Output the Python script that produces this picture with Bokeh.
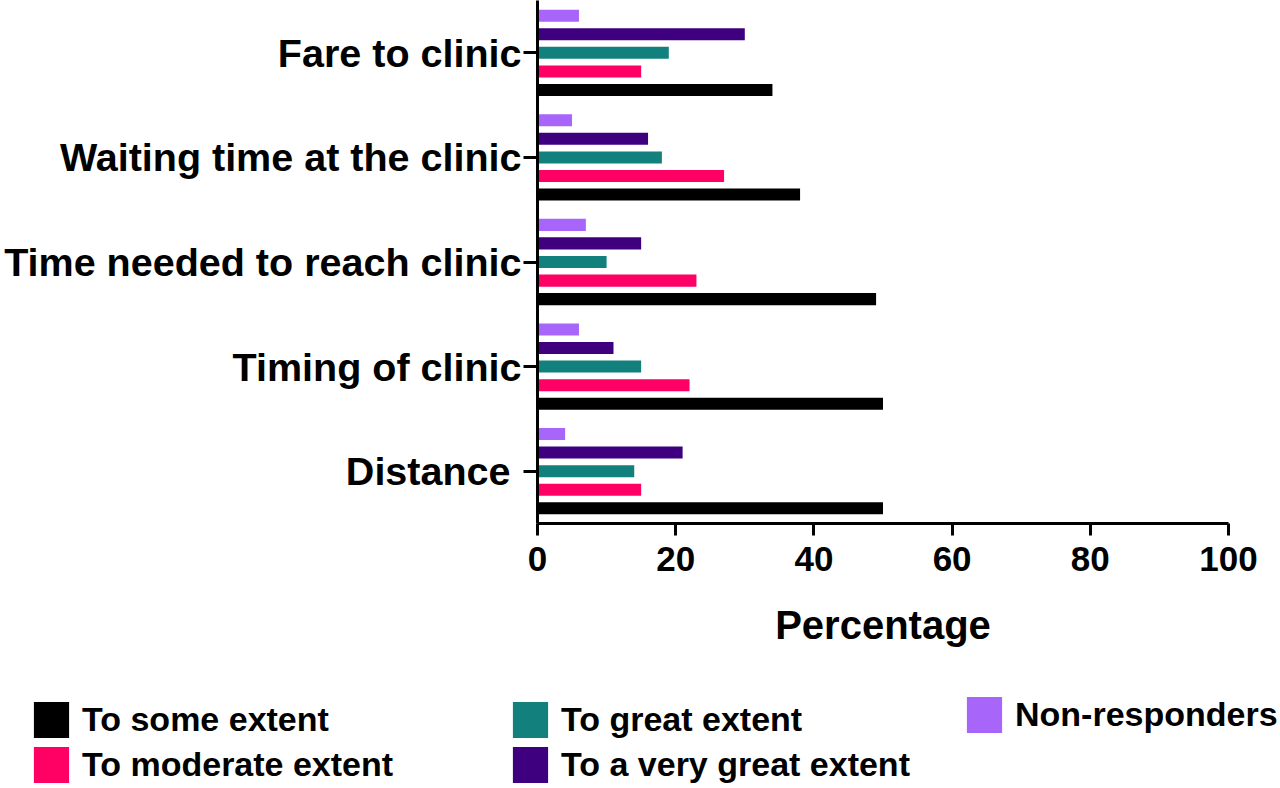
from bokeh.plotting import figure
from bokeh.layouts import column
from bokeh.models import ColumnDataSource, FactorRange, Range1d, FixedTicker, Legend, LegendItem
from bokeh.transform import dodge
from bokeh.embed import file_html
from bokeh.resources import INLINE

# barriers, listed bottom to top as Bokeh draws factors
categories = ["Distance\u00a0", "Timing of clinic", "Time needed to reach clinic",
              "Waiting time at the clinic", "Fare to clinic"]
some_extent = [50, 50, 49, 38, 34]
moderate_extent = [15, 22, 23, 27, 15]
great_extent = [14, 15, 10, 18, 19]
very_great_extent = [21, 11, 15, 16, 30]
non_responders = [4, 6, 7, 5, 6]

x_ticks = [0, 20, 40, 60, 80, 100]

FONT = "Liberation Sans"

src = ColumnDataSource(data=dict(
    cat=categories,
    some=some_extent,
    moderate=moderate_extent,
    great=great_extent,
    very_great=very_great_extent,
    nonresp=non_responders,
))

series = [
    ("some", "To some extent", "#000000", -0.355),
    ("moderate", "To moderate extent", "#FF0064", -0.178),
    ("great", "To great extent", "#12807C", 0.0),
    ("very_great", "To a very great extent", "#3F0080", 0.178),
    ("nonresp", "Non-responders", "#A766F9", 0.355),
]

p = figure(width=1280, height=680,
           y_range=FactorRange(factors=categories),
           x_range=Range1d(0, 100),
           output_backend="svg", toolbar_location=None,
           min_border_left=537, min_border_right=52,
           min_border_top=0, min_border_bottom=157)
p.frame_align = False

for key, label, col, off in series:
    p.hbar(y=dodge("cat", off, range=p.y_range), left=0, right=key,
           height=0.115, source=src, fill_color=col, line_color=None)

p.xgrid.visible = False
p.ygrid.visible = False
p.outline_line_color = None

p.xaxis.ticker = FixedTicker(ticks=x_ticks)
p.xaxis.axis_label = "Percentage"
p.xaxis.axis_label_text_font = FONT
p.xaxis.axis_label_text_font_style = "bold"
p.xaxis.axis_label_text_font_size = "40px"
p.xaxis.axis_label_text_color = "black"
p.xaxis.axis_label_standoff = 29
p.xaxis.major_label_text_font_size = "35px"
p.xaxis.major_label_standoff = 11
p.xaxis.major_tick_out = 12
p.xaxis.major_tick_in = 0
p.xaxis.minor_tick_out = 0
p.xaxis.minor_tick_in = 0

p.yaxis.major_label_text_font_size = "39.5px"
p.yaxis.major_label_standoff = 2
p.yaxis.major_tick_out = 14
p.yaxis.major_tick_in = 0

for ax in (p.xaxis, p.yaxis):
    ax.axis_line_width = 3
    ax.major_tick_line_width = 3
    ax.axis_line_color = "black"
    ax.major_tick_line_color = "black"
    ax.major_label_text_font = FONT
    ax.major_label_text_font_style = "bold"
    ax.major_label_text_color = "black"

# legend strip under the chart; its bars sit outside the visible x range
lf = figure(width=1280, height=108,
            y_range=FactorRange(factors=categories),
            x_range=Range1d(-2, -1),
            output_backend="svg", toolbar_location=None,
            x_axis_location=None, y_axis_location=None,
            min_border=0)
lf.frame_align = False
lf.xgrid.visible = False
lf.ygrid.visible = False
lf.outline_line_color = None

lrends = {}
for key, label, col, off in series:
    lrends[key] = lf.hbar(y="cat", left=0, right=key, height=0.1, source=src,
                          fill_color=col, line_color=None)


def make_legend(keys, loc):
    items = [LegendItem(label=lab, renderers=[lrends[k]])
             for k, lab, _, _ in series if k in keys]
    leg = Legend(items=items, location=loc, orientation="vertical",
                 glyph_width=44, glyph_height=45, label_height=45,
                 label_standoff=9, spacing=0, padding=0, margin=0,
                 label_text_font=FONT, label_text_font_style="bold",
                 label_text_font_size="34px", label_text_color="black",
                 border_line_alpha=0, background_fill_alpha=0)
    lf.add_layout(leg)


make_legend(["some", "moderate"], (29, 1))
make_legend(["great", "very_great"], (508, 1))
make_legend(["nonresp"], (962, 51))

layout = column(p, lf, spacing=0)
open("out.html", "w").write(file_html(layout, INLINE))
